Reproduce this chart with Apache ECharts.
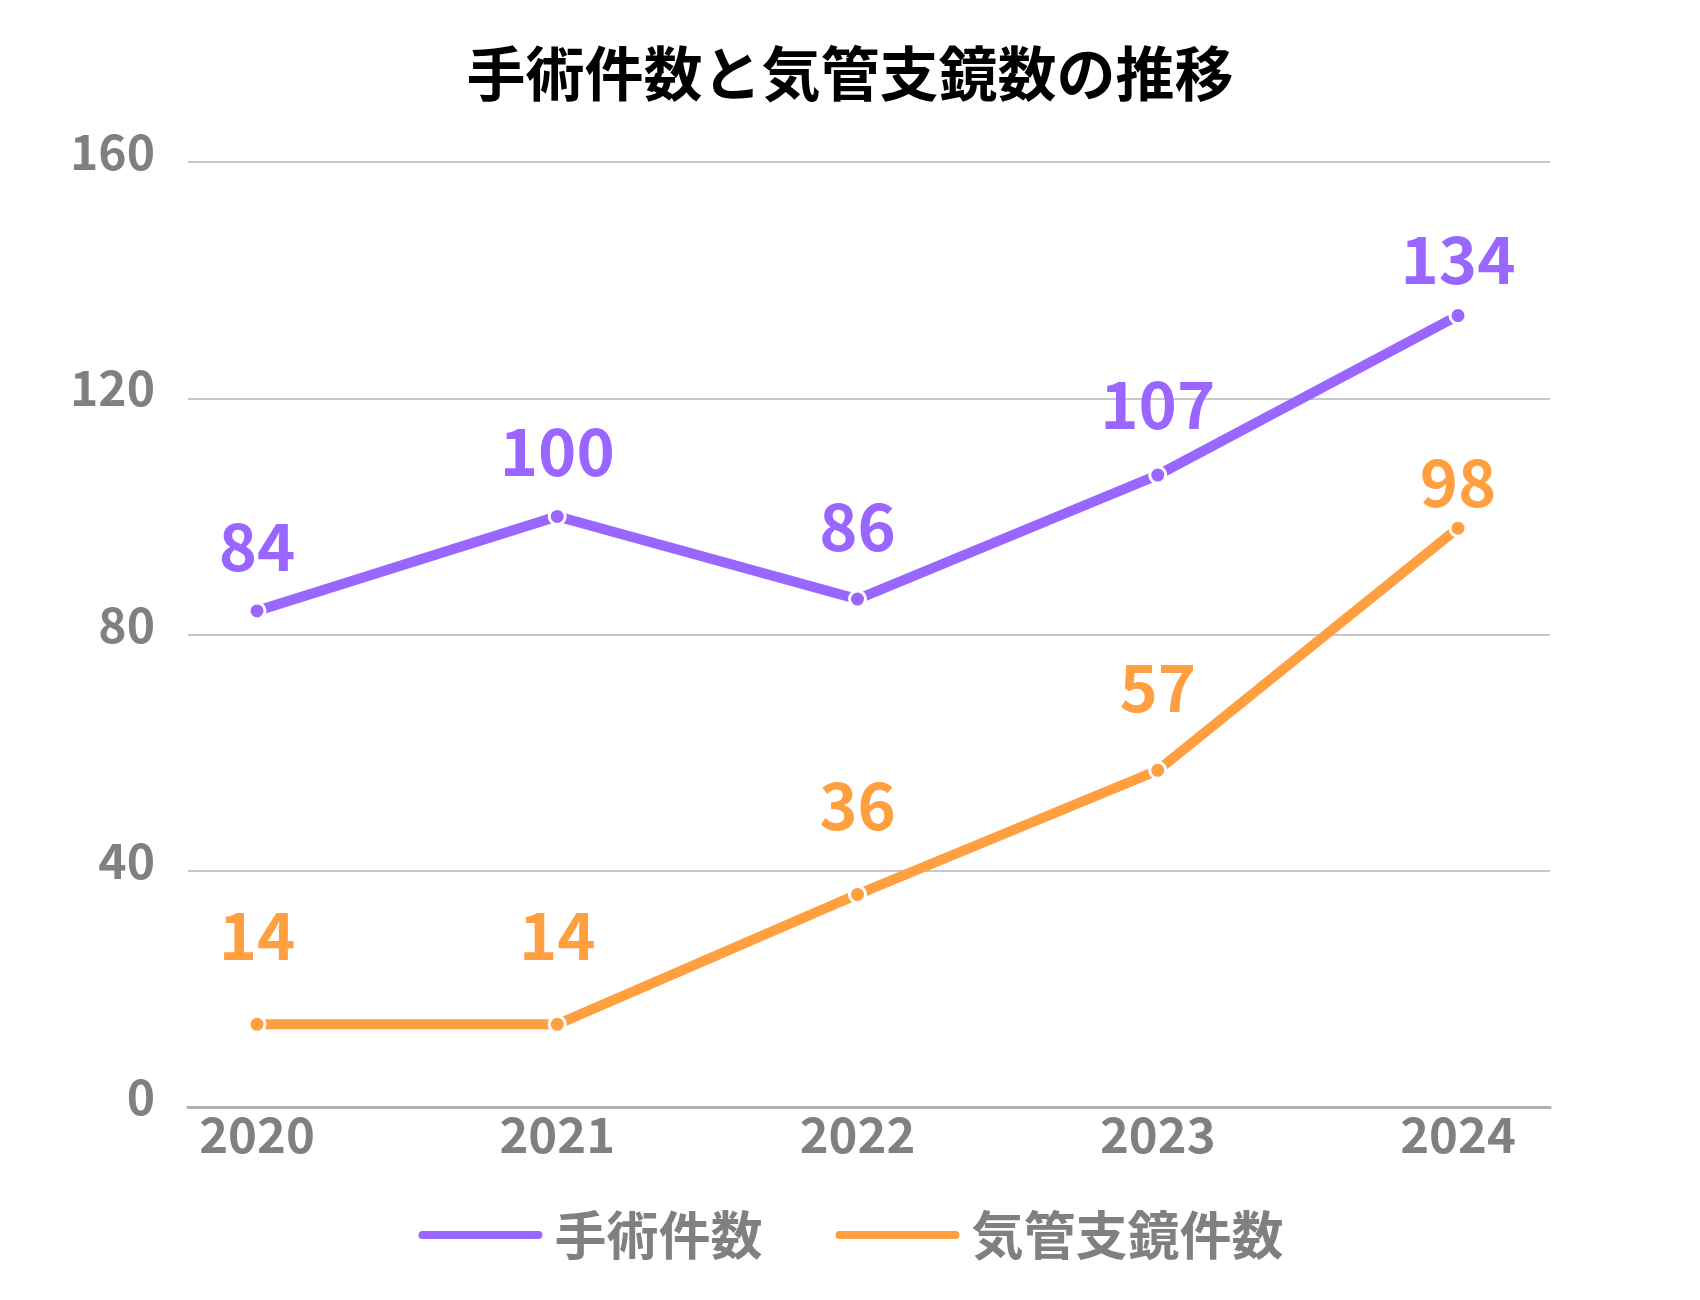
<!DOCTYPE html>
<html><head><meta charset="utf-8">
<script src="https://cdn.jsdelivr.net/npm/echarts@6/dist/echarts.min.js"></script>
<style>html,body{margin:0;padding:0;background:#fff}#c{width:1700px;height:1300px}</style>
</head><body><div id="c"></div>
<script>
const title = '手術件数と気管支鏡数の推移';
const years = ['2020','2021','2022','2023','2024'];
const seriesNames = ['手術件数','気管支鏡件数'];
const surgery = [84,100,86,107,134];
const bronchoscopy = [14,14,36,57,98];
const yTicks = [0,40,80,120,160];

// label placement tweaks (style only, pixels)
const surgeryLabelShift = [-11,-11,-19,-17,-2];
const bronchoLabelShift = [-35,-35,-35,-29,8];

const FONT = '"Noto Sans CJK JP", "Noto Sans", sans-serif';
const colors = ['#9966FF','#FF9F40'];
const legendIcon = 'path://M5,0 L121,0 A5,5 0 0 1 121,10 L5,10 A5,5 0 0 1 5,0 Z';

function mk(name, vals, shifts, color){
  return {
    name, type:'line',
    data: vals.map((v,i)=>({value:[i,v], label:{offset:[0, shifts[i]]}})),
    lineStyle:{color, width:10, cap:'round'},
    itemStyle:{color, borderColor:'#fff', borderWidth:3},
    symbol:'circle', symbolSize:16, showSymbol:true,
    label:{show:true, position:'top', distance:12, color, fontSize:65, fontWeight:'bold', fontFamily:FONT,
      formatter:(p)=>String(p.value[1])},
    z:3
  };
}

const chart = echarts.init(document.getElementById('c'), null, {renderer:'canvas'});
chart.setOption({
  backgroundColor:'#fff',
  animation:false,
  color: colors,
  title:{text:title, left:'center', top:39, textStyle:{fontSize:59, fontWeight:'bold', color:'#000', fontFamily:FONT}},
  legend:{
    bottom:34, left:'center', itemWidth:126, itemHeight:10, itemGap:71,
    icon: legendIcon,
    textStyle:{fontSize:52, fontWeight:'bold', color:'#808080', fontFamily:FONT, padding:[0,0,0,6]},
    data: seriesNames
  },
  grid:{left:188, right:150, top:162, bottom:193, containLabel:false},
  xAxis:{
    type:'value', min:-0.2298, max:4.3064,
    splitLine:{show:false}, axisTick:{show:false},
    axisLine:{show:true, lineStyle:{color:'#b0b0b0', width:3}},
    axisLabel:{customValues:[0,1,2,3,4], formatter:(v)=>years[Math.round(v)] || '', fontSize:49, fontWeight:'bold', color:'#808080', fontFamily:FONT, margin:3}
  },
  yAxis:{
    type:'value', min:yTicks[0], max:yTicks[yTicks.length-1], interval:40,
    axisLine:{show:false}, axisTick:{show:false},
    splitLine:{lineStyle:{color:'#c8c8c8', width:2}},
    axisLabel:{fontSize:48, fontWeight:'bold', color:'#808080', fontFamily:FONT, margin:33, verticalAlign:'bottom', lineHeight:20}
  },
  series:[mk(seriesNames[0], surgery, surgeryLabelShift, colors[0]), mk(seriesNames[1], bronchoscopy, bronchoLabelShift, colors[1])]
});
</script></body></html>
